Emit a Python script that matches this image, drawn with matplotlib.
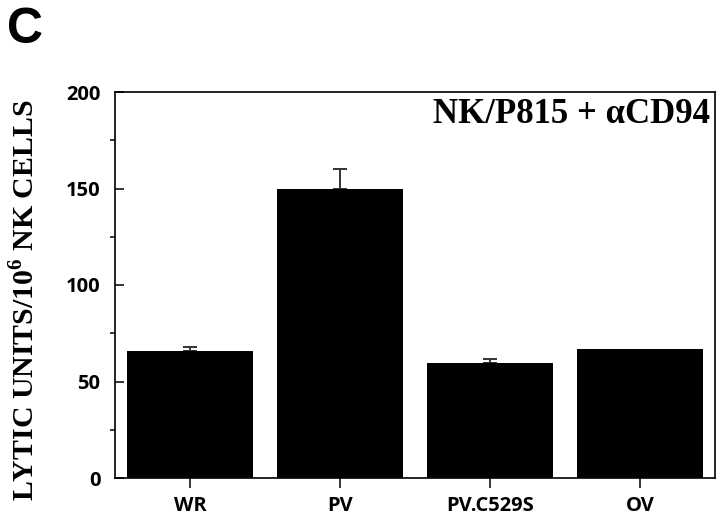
import matplotlib
matplotlib.use("Agg")
import matplotlib.pyplot as plt
from matplotlib.ticker import MultipleLocator

categories = ["WR", "PV", "PV.C529S", "OV"]
values = [65.8, 149.7, 59.6, 66.8]
errors_up = [2.3, 10.3, 2.0, 0.0]
yticks = [0, 50, 100, 150, 200]

plt.rcParams['mathtext.fontset'] = 'custom'
plt.rcParams['mathtext.rm'] = 'Liberation Serif:bold'
plt.rcParams['mathtext.bf'] = 'Liberation Serif:bold'

fig = plt.figure(figsize=(7.2, 5.15), dpi=100)
ax = fig.add_axes([115/720, 1-478/515, 600/720, (478-92)/515])

x = list(range(len(categories)))
ax.bar(x, values, width=0.84, color='black', edgecolor='none', zorder=2)
ex = [xi for xi, e in zip(x, errors_up) if e > 0]
ev = [v for v, e in zip(values, errors_up) if e > 0]
ee = [e for e in errors_up if e > 0]
ax.errorbar(ex, ev, yerr=[[0]*len(ee), ee], fmt='none',
            ecolor='#333333', elinewidth=1.4, capsize=5, capthick=1.4, zorder=1)

ax.set_xlim(-0.5, 3.5)
ax.set_ylim(0, 200)
ax.set_xticks(x)
ax.set_xticklabels(categories, fontfamily='Open Sans', fontweight='bold', fontsize=14.5)
ax.set_yticks(yticks)
ax.set_yticklabels([str(v) for v in yticks], fontfamily='Open Sans', fontweight='bold', fontsize=14.5)
ax.yaxis.set_minor_locator(MultipleLocator(25))
ax.tick_params(axis='y', which='major', direction='in', length=6.5, width=1.1, pad=10.5)
ax.tick_params(axis='y', which='minor', direction='out', length=3.5, width=1.1)
ax.tick_params(axis='x', which='major', direction='out', length=7, width=1.1, pad=6)
for s in ax.spines.values():
    s.set_linewidth(1.2)

ax.text(0.992, 0.985, "NK/P815 + \u03b1CD94", transform=ax.transAxes, ha='right', va='top',
        fontfamily='Liberation Serif', fontweight='bold', fontsize=25)

fig.text(25/720, 1-300/515, r"LYTIC UNITS/10$^{6}$ NK CELLS", rotation=90, ha='center', va='center',
         fontfamily='Liberation Serif', fontweight='bold', fontsize=21.5)

fig.text(7/720, 1-43/515, "C", ha='left', va='baseline', fontfamily='Liberation Sans', fontweight='bold', fontsize=36)

fig.savefig("out.png", dpi=100)
